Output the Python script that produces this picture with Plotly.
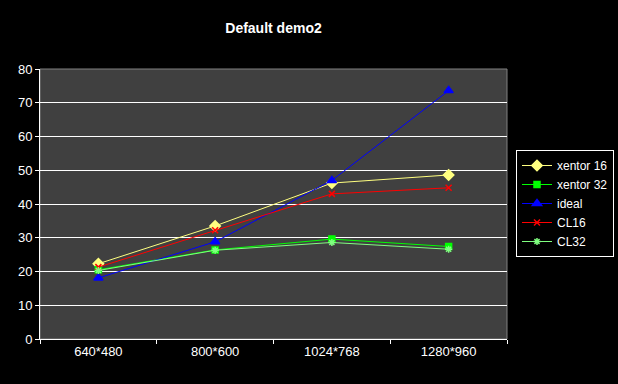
import plotly.graph_objects as go

categories = ["640*480", "800*600", "1024*768", "1280*960"]
xentor16 = [22.3, 33.5, 46.2, 48.6]
xentor32 = [20.5, 26.4, 29.6, 27.4]
ideal = [18.1, 28.8, 47.0, 73.6]
cl16 = [21.3, 32.2, 43.0, 44.8]
cl32 = [20.3, 26.3, 28.6, 26.6]
y_ticks = [0, 10, 20, 30, 40, 50, 60, 70, 80]

series = [
    ("xentor 16", xentor16, "#FFFF80", "diamond", 8),
    ("xentor 32", xentor32, "#00FF00", "square", 6),
    ("ideal", ideal, "#0000FF", "triangle-up", 8),
    ("CL16", cl16, "#FF0000", "x-thin", 6),
    ("CL32", cl32, "#80FF80", "asterisk", 6),
]

fig = go.Figure()
for name, vals, col, sym, size in series:
    fig.add_trace(go.Scatter(
        x=categories, y=vals, name=name, mode="lines+markers",
        line=dict(color=col, width=1),
        marker=dict(symbol=sym, size=size, color=col, line=dict(color=col, width=1.5)),
    ))

fig.add_shape(type="rect", xref="paper", yref="paper", x0=0, y0=0, x1=1, y1=1,
              line=dict(color="#808080", width=1), layer="below")

fig.update_layout(
    width=618, height=384,
    paper_bgcolor="black", plot_bgcolor="#404040",
    margin=dict(l=40, r=111, t=69, b=45, autoexpand=False),
    title=dict(text="<b>Default demo2</b>", x=0.5, xref="paper", xanchor="center",
               y=1 - 28 / 384, yanchor="middle",
               font=dict(family="Liberation Sans, Arial, sans-serif", size=14, color="white")),
    font=dict(family="Liberation Sans, Arial, sans-serif", size=12, color="white"),
    showlegend=True,
    legend=dict(xref="container", yref="container", x=516 / 618, y=1 - 150 / 384,
                xanchor="left", yanchor="top",
                bgcolor="black", bordercolor="white", borderwidth=1,
                font=dict(size=12, color="white"), itemwidth=30, tracegroupgap=3),
    xaxis=dict(type="category", tickson="boundaries", ticks="outside", ticklen=4,
               tickcolor="white", showline=True, linecolor="white", linewidth=1,
               showgrid=False, range=[-0.5, 3.5], zeroline=False,
               tickfont=dict(size=13, color="white")),
    yaxis=dict(range=[0, 80], tickvals=y_ticks, ticks="outside", ticklen=4,
               tickcolor="white", showline=True, linecolor="white", linewidth=1,
               showgrid=True, gridcolor="white", gridwidth=1, zeroline=False,
               tickfont=dict(size=13, color="white")),
)

post = ("document.body.style.margin='0';document.body.style.background='black';"
        "document.body.style.overflow='hidden';"
        "Plotly.relayout('{plot_id}', {width:618, height:384});")
fig.write_html("out.html", config={"responsive": False, "displayModeBar": False},
               post_script=post)
